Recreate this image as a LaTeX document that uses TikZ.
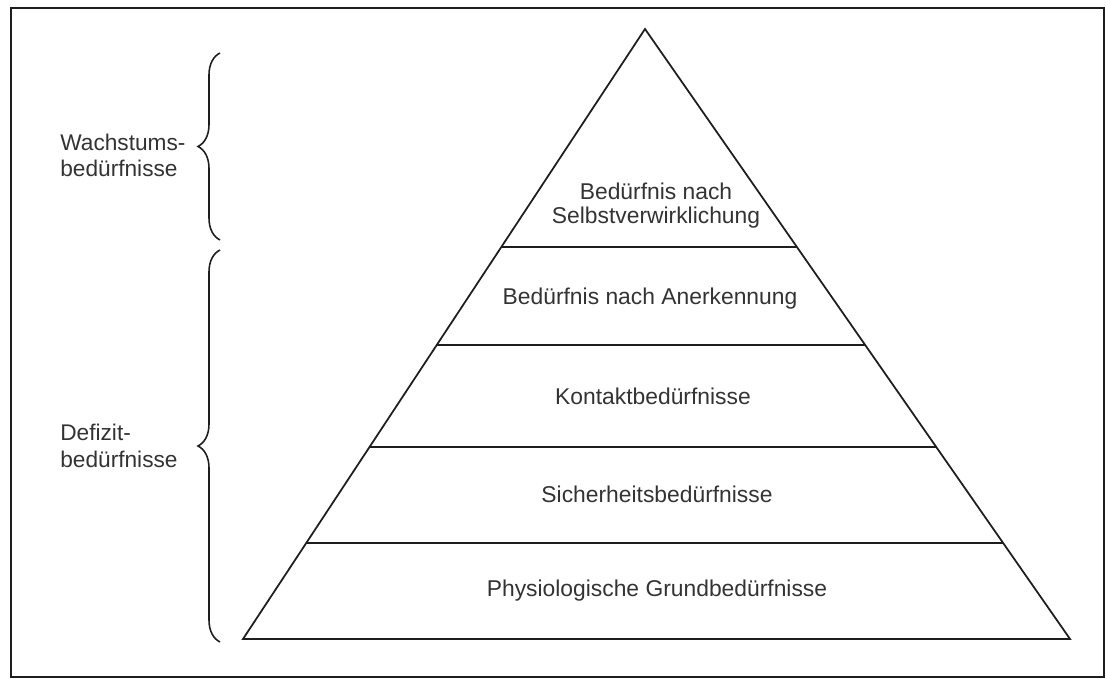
\documentclass[tikz,border=0pt]{standalone}
\usepackage{fontspec}
\setmainfont{Liberation Sans}
\usetikzlibrary{calc,decorations.pathreplacing}
\definecolor{linie}{HTML}{1E1E1E}
\definecolor{schrift}{HTML}{333333}

\begin{document}
\begin{tikzpicture}[
    stufe/.style={schrift,font=\fontsize{13}{13.8}\selectfont,align=center},
    seite/.style={schrift,font=\fontsize{12.9}{15}\selectfont,align=left,anchor=west,inner sep=0pt},
    klammer/.style={linie,line width=0.9pt,decorate,decoration={brace,amplitude=0.44cm}}]
    \useasboundingbox (0,0) rectangle (22.12,13.58);
    % ---- Rahmen ----
    \draw[linie,line width=1.2pt] (0.22,0.04) rectangle (22.08,13.42);

    % ---- Pyramide ----
    \coordinate (spitze) at (12.9,13.0);
    \coordinate (links) at (4.86,0.8);
    \coordinate (rechts) at (21.4,0.8);
    \draw[linie,line width=1pt,line join=miter] (spitze) -- (links) -- (rechts) -- cycle;
    \foreach \t in {0.357,0.518,0.685,0.843}
        \draw[linie,line width=1pt] ($(spitze)!\t!(links)$) -- ($(spitze)!\t!(rechts)$);

    % ---- Stufen ----
    \node[stufe] (selbst) at (13.12,9.47) {Bedürfnis nach\\Selbstverwirklichung};
    \node[stufe] (anerk)  at (13.0,7.6)   {Bedürfnis nach Anerkennung};
    \node[stufe] (kontakt) at (13.06,5.66) {Kontaktbedürfnisse};
    \node[stufe] (sicher) at (13.14,3.7)  {Sicherheitsbedürfnisse};
    \node[stufe] (physio) at (13.14,1.76) {Physiologische Grundbedürfnisse};

    % ---- Klammern ----
    \coordinate (k1u) at (4.4,8.78);
    \coordinate (k1o) at (4.4,12.52);
    \coordinate (k2u) at (4.4,0.74);
    \coordinate (k2o) at (4.4,8.58);
    \draw[klammer] (k1u) -- (k1o);
    \draw[klammer] (k2u) -- (k2o);
    \node[seite] (wachstum) at (1.2,10.47) {Wachstums-\\bedürfnisse};
    \node[seite] (defizit)  at (1.2,4.66)  {Defizit-\\bedürfnisse};

\end{tikzpicture}
\end{document}
